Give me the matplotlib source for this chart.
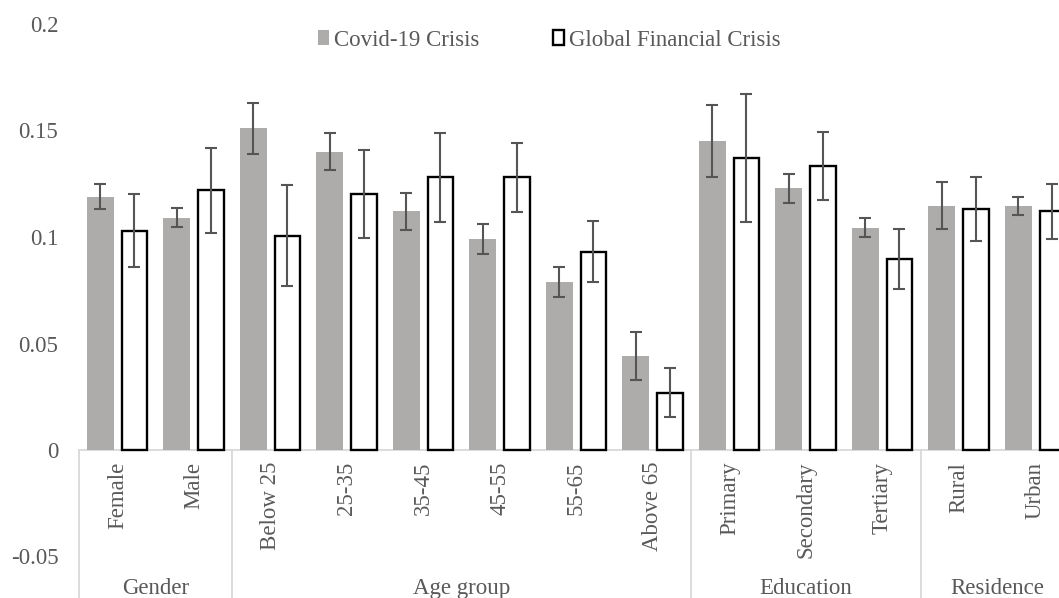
import matplotlib
matplotlib.use("Agg")
import matplotlib.pyplot as plt
import numpy as np
from matplotlib.patches import Patch

plt.rcParams["font.family"] = ["Liberation Serif", "DejaVu Serif"]

# subgroup labels and their parent groups
categories = ["Female", "Male", "Below 25", "25-35", "35-45", "45-55", "55-65",
              "Above 65", "Primary", "Secondary", "Tertiary", "Rural", "Urban"]
groups = ["Gender", "Age group", "Education", "Residence"]
group_sizes = [2, 6, 3, 2]

covid = [0.119, 0.109, 0.151, 0.140, 0.112, 0.099, 0.079, 0.044,
         0.145, 0.1228, 0.1044, 0.1146, 0.1146]
covid_err = [0.006, 0.0045, 0.012, 0.0087, 0.0087, 0.007, 0.007, 0.0113,
             0.017, 0.0068, 0.0045, 0.011, 0.0043]
gfc = [0.103, 0.122, 0.1005, 0.120, 0.128, 0.128, 0.093, 0.0268,
       0.137, 0.1333, 0.0897, 0.113, 0.112]
gfc_err = [0.017, 0.020, 0.0237, 0.0207, 0.021, 0.0162, 0.0143, 0.0115,
           0.030, 0.016, 0.0141, 0.015, 0.013]

TXT = "#595959"
GRID = "#D9D9D9"
FS = 16.5
W, H = 1059, 598

fig = plt.figure(figsize=(W / 100, H / 100), dpi=100)
ax = fig.add_axes([79.2 / W, (H - 556.5) / H, 1 - 79.2 / W, (556.5 - 24) / H])

x = np.arange(len(categories))
bw = 0.353
off = 0.222
err_kw = dict(ecolor="#555555", elinewidth=1.5, capsize=4, capthick=1.5)

ax.bar(x - off, covid, bw, color="#AEABAB", yerr=covid_err,
       error_kw=err_kw, zorder=3, label="Covid-19 Crisis")
ax.bar(x + off, gfc, bw - 0.02, color="white", edgecolor="black", linewidth=1.7,
       yerr=gfc_err, error_kw=err_kw, zorder=3, label="Global Financial Crisis")

ax.set_xlim(-0.5, -0.5 + (W - 79.2) / 76.5)
ax.set_ylim(-0.05, 0.2)
ax.set_yticks([-0.05, 0, 0.05, 0.1, 0.15, 0.2])
ax.set_yticklabels(["-0.05", "0", "0.05", "0.1", "0.15", "0.2"])
ax.tick_params(axis="y", length=0, pad=15, labelsize=FS, labelcolor=TXT)
ax.set_xticks([])
for s in ax.spines.values():
    s.set_visible(False)

# category axis drawn at zero, with labels hanging below
ax.axhline(0, color=GRID, linewidth=1.3, zorder=1)
for xi, name in zip(x, categories):
    ax.text(xi, -0.0055, name, rotation=90, ha="center", va="top",
            fontsize=FS, color=TXT)

edges = np.concatenate([[0], np.cumsum(group_sizes)]) - 0.5
for e in edges:
    ax.plot([e, e], [0, -0.08], color=GRID, linewidth=1.3, clip_on=False, zorder=1)
for g, a, b in zip(groups, edges[:-1], edges[1:]):
    ax.text((a + b) / 2, -0.0652, g, ha="center", va="center",
            fontsize=FS, color=TXT)

handles = [Patch(facecolor="#AEABAB", edgecolor="none"),
           Patch(facecolor="white", edgecolor="black", linewidth=1.7)]
fig.legend(handles, ["Covid-19 Crisis", "Global Financial Crisis"],
           loc="center", bbox_to_anchor=(549 / W, (H - 40) / H), ncol=2,
           frameon=False, fontsize=FS, labelcolor=TXT,
           handlelength=0.5, handleheight=0.6, handletextpad=0.2,
           columnspacing=3.2)

fig.savefig("out.png", dpi=100)
